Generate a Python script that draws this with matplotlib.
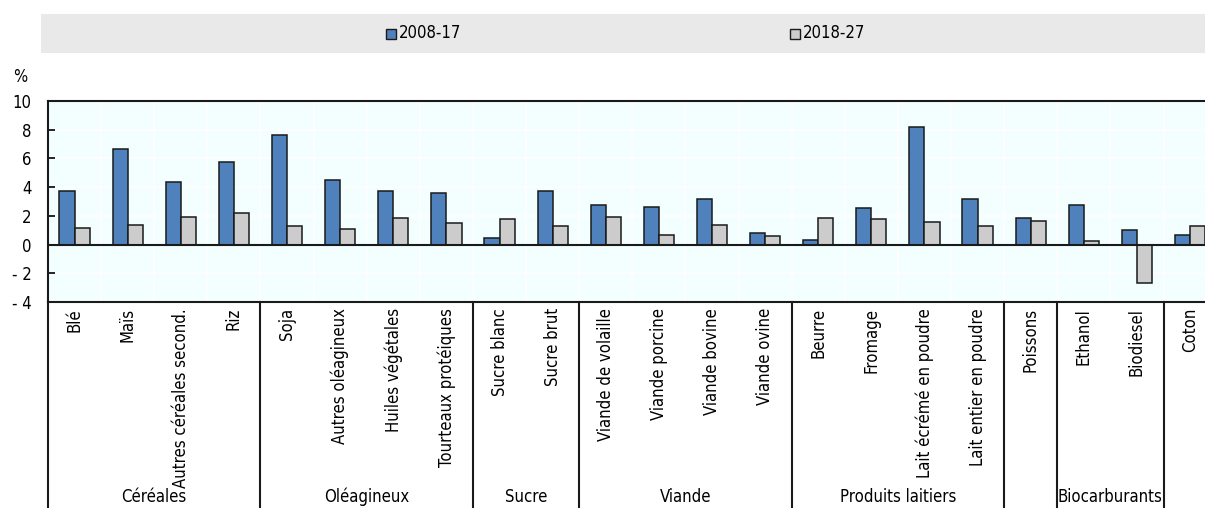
import numpy as np
import matplotlib
matplotlib.use("Agg")
import matplotlib.pyplot as plt
from matplotlib.patches import Rectangle

# ---- data ----
products = ["Blé", "Maïs", "Autres céréales second.", "Riz",
            "Soja", "Autres oléagineux", "Huiles végétales", "Tourteaux protéiques",
            "Sucre blanc", "Sucre brut",
            "Viande de volaille", "Viande porcine", "Viande bovine", "Viande ovine",
            "Beurre", "Fromage", "Lait écrémé en poudre", "Lait entier en poudre",
            "Poissons",
            "Ethanol", "Biodiesel",
            "Coton"]
v_2008_17 = [3.75, 6.68, 4.39, 5.75,
             7.63, 4.53, 3.73, 3.62,
             0.49, 3.76,
             2.74, 2.60, 3.18, 0.84,
             0.35, 2.55, 8.22, 3.18,
             1.88,
             2.76, 1.00,
             0.67]
v_2018_27 = [1.13, 1.39, 1.92, 2.20,
             1.27, 1.11, 1.85, 1.50,
             1.81, 1.27,
             1.95, 0.70, 1.34, 0.63,
             1.83, 1.76, 1.55, 1.27,
             1.64,
             0.28, -2.65,
             1.32]
groups = ["Céréales", "Oléagineux", "Sucre", "Viande", "Produits laitiers",
          "", "Biocarburants", ""]
group_sizes = [4, 4, 2, 4, 4, 1, 2, 1]
series_names = ["2008-17", "2018-27"]
yticks = [-4, -2, 0, 2, 4, 6, 8, 10]
ytick_labels = ["- 4", "- 2", "0", "2", "4", "6", "8", "10"]

BLUE = "#4F81BD"
GREY = "#CCCCCC"
EDGE = "#1a1a1a"

plt.rcParams['font.family'] = ['DejaVu Sans']
plt.rcParams['font.stretch'] = 'condensed'
FS = 12

W, H = 1205, 508
fig = plt.figure(figsize=(W / 100, H / 100), dpi=100)

# plot area in pixels
left_px, top_px, bot_px = 48, 101, 302
cat_w = 53.12
right_px = left_px + len(products) * cat_w
ax = fig.add_axes([left_px / W, 1 - bot_px / H, (right_px - left_px) / W, (bot_px - top_px) / H])

x = np.arange(len(products))
bw = 0.285
ax.bar(x - bw / 2, v_2008_17, bw, color=BLUE, edgecolor=EDGE, linewidth=1.1, zorder=3)
ax.bar(x + bw / 2, v_2018_27, bw, color=GREY, edgecolor=EDGE, linewidth=1.1, zorder=3)

ax.set_xlim(-0.5, len(products) - 0.5)
ax.set_ylim(-4, 10)
ax.set_facecolor("#F3FEFE")
ax.set_yticks(yticks)
ax.set_yticklabels(ytick_labels, fontsize=FS)
ax.set_xticks(np.arange(len(products) + 1) - 0.5)
ax.set_xticklabels([])
ax.tick_params(axis='x', length=0)
ax.tick_params(axis='y', direction='in', length=5, width=1.2, pad=12)
for lab in ax.get_yticklabels():
    lab.set_horizontalalignment('right')
ax.grid(True, color="white", linewidth=1.2, zorder=0)
ax.set_axisbelow(True)
ax.axhline(0, color=EDGE, linewidth=1.5, zorder=4)
for s in ["top", "left", "bottom"]:
    ax.spines[s].set_linewidth(1.5)
    ax.spines[s].set_color(EDGE)
ax.spines["right"].set_visible(False)

# category labels below the axis
trans = ax.get_xaxis_transform()
lab_y = (bot_px - 308) / (bot_px - top_px)
for i, name in enumerate(products):
    ax.text(i, lab_y, name, rotation=90, ha='center', va='top', fontsize=FS,
            transform=trans, clip_on=False)

# group separators and labels
bottom_y = (bot_px - H) / (bot_px - top_px)
grp_y = (bot_px - 497) / (bot_px - top_px)
start = 0
ax.plot([-0.5, -0.5], [0, bottom_y], color=EDGE, lw=1.5, transform=trans, clip_on=False)
for g, n in zip(groups, group_sizes):
    end = start + n
    ax.plot([end - 0.5, end - 0.5], [0, bottom_y], color=EDGE, lw=1.5,
            transform=trans, clip_on=False)
    if g:
        ax.text((start + end - 1) / 2, grp_y, g, ha='center', va='center',
                fontsize=FS, transform=trans, clip_on=False)
    start = end

# "%" unit label
fig.text(20 / W, 1 - 77 / H, "%", ha='center', va='center', fontsize=FS)

# legend band
fig.patches.append(Rectangle((41 / W, 1 - 53 / H), 1 - 41 / W, 39 / H,
                             transform=fig.transFigure, facecolor="#E9E9E9",
                             edgecolor="none", zorder=0))
sq = 10
for (x0, col, name) in [(386, BLUE, series_names[0]), (790, GREY, series_names[1])]:
    fig.patches.append(Rectangle((x0 / W, 1 - 39 / H), sq / W, sq / H,
                                 transform=fig.transFigure, facecolor=col,
                                 edgecolor=EDGE, linewidth=1.0, zorder=1))
    fig.text((x0 + sq + 3) / W, 1 - 33.5 / H, name, ha='left', va='center', fontsize=FS)

fig.savefig("out.png", dpi=100)
